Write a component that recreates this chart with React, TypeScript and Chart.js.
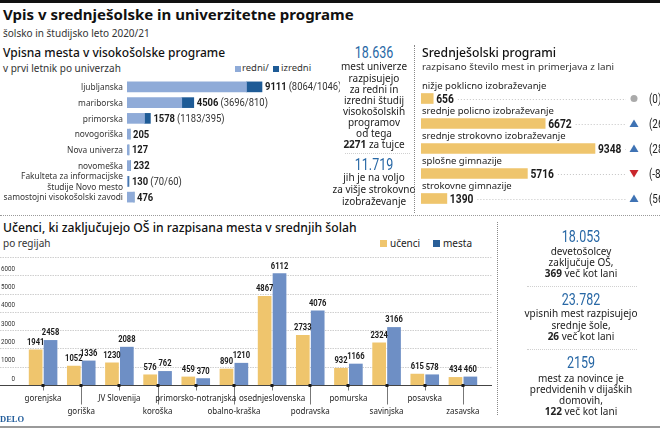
import React, { useEffect, useRef } from 'react';
import { Chart, registerables } from 'chart.js';
Chart.register(...registerables);

const BODY = '"Noto Sans", "Open Sans", sans-serif';
const NARROW = '"Roboto", "Liberation Sans", sans-serif';
const BLUE_TXT = '#2767a5';
const C_REDNI = '#8fabd8';
const C_IZREDNI = '#1e5b96';
const C_YELLOW = '#efc56d';
const C_MESTA = '#6e8fc5';
const C_MESTA_LEG = '#2a5f98';

// ---- Data ----
const uniLabels: (string | string[])[] = [
  'ljubljanska',
  'mariborska',
  'primorska',
  'novogoriška',
  'Nova univerza',
  'novomeška',
  ['Fakulteta za informacijske', 'študije Novo mesto'],
  'samostojni visokošolski zavodi',
];
const uniRedni = [8064, 3696, 1183, 205, 127, 232, 70, 476];
const uniIzredni = [1046, 810, 395, 0, 0, 0, 60, 0];
const uniTotal = [9111, 4506, 1578, 205, 127, 232, 130, 476];

const secLabels = [
  'nižje poklicno izobraževanje',
  'srednje policno izobraževanje',
  'srednje strokovno izobraževanje',
  'splošne gimnazije',
  'strokovne gimnazije',
];
const secValues = [656, 6672, 9348, 5716, 1390];
const secChange = [0, 26, 28, -84, 56];

const regions = [
  'gorenjska',
  'goriška',
  'JV Slovenija',
  'koroška',
  'primorsko-notranjska',
  'obalno-kraška',
  'osednjeslovenska',
  'podravska',
  'pomurska',
  'savinjska',
  'posavska',
  'zasavska',
];
const ucenci = [1941, 1052, 1230, 576, 459, 890, 4867, 2733, 932, 2324, 615, 434];
const mesta = [2458, 1336, 2088, 762, 370, 1210, 6112, 4076, 1166, 3166, 578, 460];
const regionTicks = [0, 1000, 2000, 3000, 4000, 5000, 6000, 7000];

// condensed canvas text: draws horizontally squeezed, returns drawn width
function nText(ctx: CanvasRenderingContext2D, text: string, x: number, y: number, font: string,
  align: CanvasTextAlign = 'left', sx = 0.82): number {
  ctx.save();
  ctx.font = font;
  ctx.textAlign = align;
  ctx.textBaseline = 'middle';
  const w = ctx.measureText(text).width * sx;
  ctx.translate(x, y);
  ctx.scale(sx, 1);
  ctx.fillText(text, 0, 0);
  ctx.restore();
  return w;
}

// ---- Text helper ----
type TP = {
  x: number; y: number; size: number; children: React.ReactNode; w?: number;
  align?: 'left' | 'center' | 'right'; weight?: number; color?: string; font?: string; lh?: number; sx?: number;
};
const T = ({ x, y, size, children, w, align = 'left', weight = 400, color = '#222', font = BODY, lh, sx }: TP) => {
  const L = lh ?? size * 1.2;
  const width = w ?? 200;
  const left = align === 'center' ? x - width / 2 : align === 'right' ? x - width : x;
  return (
    <div
      style={{
        position: 'absolute', left, top: y - L / 2, width: align === 'left' && !w ? undefined : width,
        fontSize: size, lineHeight: L + 'px', fontWeight: weight, color, fontFamily: font,
        textAlign: align, whiteSpace: 'nowrap',
        transform: sx ? `scaleX(${sx})` : undefined,
        transformOrigin: align === 'center' ? 'center' : align === 'right' ? 'right' : 'left',
      }}
    >
      {children}
    </div>
  );
};

function UniChart() {
  const ref = useRef<HTMLCanvasElement>(null);
  useEffect(() => {
    const labelPlugin = {
      id: 'uniLabels',
      afterDatasetsDraw(chart: any) {
        const { ctx, chartArea } = chart;
        const xs = chart.scales.x, ys = chart.scales.y;
        uniLabels.forEach((lab, i) => {
          const y = ys.getPixelForValue(i) + 0.5;
          ctx.fillStyle = '#333';
          const lines = Array.isArray(lab) ? lab : [lab];
          lines.forEach((ln, k) => {
            const dy = (k - (lines.length - 1) / 2) * 10.2;
            nText(ctx, ln, chartArea.left - 4, y + dy, `9.5px ${BODY}`, 'right', 0.88);
          });
        });
        uniTotal.forEach((t, i) => {
          const x = xs.getPixelForValue(uniRedni[i] + uniIzredni[i]) + 3;
          const y = ys.getPixelForValue(i) + 0.5;
          ctx.fillStyle = '#1a1a1a';
          const w = nText(ctx, String(t), x, y, `bold 11.5px ${NARROW}`);
          if (uniIzredni[i] > 0) {
            ctx.fillStyle = '#333';
            nText(ctx, `(${uniRedni[i]}/${uniIzredni[i]})`, x + w + 2, y, `11.5px ${NARROW}`);
          }
        });
      },
    };
    const chart = new Chart(ref.current as HTMLCanvasElement, {
      type: 'bar',
      data: {
        labels: uniLabels as any,
        datasets: [
          { label: 'redni', data: uniRedni, backgroundColor: C_REDNI, barThickness: 10, stack: 's' },
          { label: 'izredni', data: uniIzredni, backgroundColor: C_IZREDNI, barThickness: 10, stack: 's' },
        ],
      },
      options: {
        indexAxis: 'y',
        animation: false,
        responsive: false,
        layout: { padding: { top: 1, bottom: 1, left: 0, right: 0 } },
        plugins: { legend: { display: false }, tooltip: { enabled: false } },
        scales: {
          x: { display: false, stacked: true, min: 0, max: 14375 },
          y: {
            stacked: true,
            grid: { display: false, drawTicks: false },
            border: { display: false },
            ticks: { display: false },
            afterFit: (s: any) => { s.width = 127; s.paddingTop = 0; s.paddingBottom = 0; },
          },
        },
      } as any,
      plugins: [labelPlugin],
    });
    return () => chart.destroy();
  }, []);
  return <canvas ref={ref} width={340} height={128} style={{ position: 'absolute', left: 0, top: 78 }} />;
}

function SecChart() {
  const ref = useRef<HTMLCanvasElement>(null);
  useEffect(() => {
    const plug = {
      id: 'secLabels',
      afterDatasetsDraw(chart: any) {
        const { ctx } = chart;
        const xs = chart.scales.x, ys = chart.scales.y;
        const left = chart.chartArea.left;
        secValues.forEach((v, i) => {
          const y = ys.getPixelForValue(i);
          ctx.save();
          ctx.textBaseline = 'middle';
          ctx.textAlign = 'left';
          ctx.font = `9.5px ${BODY}`;
          ctx.fillStyle = '#222';
          ctx.fillText(secLabels[i], left + 1, y - 12);
          ctx.restore();
          const x = xs.getPixelForValue(v) + 3;
          ctx.fillStyle = '#1a1a1a';
          const w = nText(ctx, String(v), x, y + 1, `bold 12.5px ${NARROW}`);
          const ix = 213;
          ctx.save();
          ctx.strokeStyle = '#c4c4c4';
          ctx.lineWidth = 1;
          ctx.setLineDash([1, 2]);
          ctx.beginPath();
          ctx.moveTo(x + w + 4, Math.round(y) + 0.5);
          ctx.lineTo(ix - 8, Math.round(y) + 0.5);
          ctx.stroke();
          ctx.setLineDash([]);
          const c = secChange[i];
          ctx.beginPath();
          if (c > 0) {
            ctx.fillStyle = '#3f73b4';
            ctx.moveTo(ix, y - 4); ctx.lineTo(ix + 4.5, y + 3.5); ctx.lineTo(ix - 4.5, y + 3.5);
          } else if (c < 0) {
            ctx.fillStyle = '#c9262c';
            ctx.moveTo(ix - 4.5, y - 3.5); ctx.lineTo(ix + 4.5, y - 3.5); ctx.lineTo(ix, y + 4);
          } else {
            ctx.fillStyle = '#aaaaaa';
            ctx.arc(ix, y, 3.5, 0, Math.PI * 2);
          }
          ctx.closePath();
          ctx.fill();
          ctx.restore();
          ctx.fillStyle = '#222';
          nText(ctx, `(${c})`, ix + 15, y + 1, `12px ${NARROW}`);
        });
      },
    };
    const chart = new Chart(ref.current as HTMLCanvasElement, {
      type: 'bar',
      data: {
        labels: secLabels,
        datasets: [{ data: secValues, backgroundColor: C_YELLOW, barThickness: 10 }],
      },
      options: {
        indexAxis: 'y',
        animation: false,
        responsive: false,
        layout: { padding: { top: 10, bottom: 0, left: 0, right: 0 } },
        plugins: { legend: { display: false }, tooltip: { enabled: false } },
        scales: {
          x: { display: false, min: 0, max: 12842 },
          y: { display: false },
        },
      } as any,
      plugins: [plug],
    });
    return () => chart.destroy();
  }, []);
  return <canvas ref={ref} width={239} height={135} style={{ position: 'absolute', left: 421, top: 76 }} />;
}

function RegionChart() {
  const ref = useRef<HTMLCanvasElement>(null);
  useEffect(() => {
    const plug = {
      id: 'regionDeco',
      beforeDatasetsDraw(chart: any) {
        const { ctx } = chart;
        const ys = chart.scales.y;
        ctx.save();
        ctx.strokeStyle = '#cfcfcf';
        ctx.lineWidth = 1;
        ctx.setLineDash([1.5, 1]);
        ys.ticks.forEach((t: any) => {
          if (t.value === 0) return;
          const y = Math.round(ys.getPixelForValue(t.value)) + 0.5;
          ctx.beginPath();
          ctx.moveTo(0, y);
          ctx.lineTo(492, y);
          ctx.stroke();
        });
        ctx.restore();
        ctx.fillStyle = '#333';
        ys.ticks.forEach((t: any) => {
          if (t.value === 7000) return;
          nText(ctx, String(t.value), 15, ys.getPixelForValue(t.value) - 6.5, `8px ${NARROW}`, 'right', 0.78);
        });
      },
      afterDatasetsDraw(chart: any) {
        const { ctx, chartArea } = chart;
        const xs = chart.scales.x;
        ctx.save();
        const b = Math.round(chartArea.bottom) + 0.5;
        ctx.strokeStyle = '#444';
        ctx.lineWidth = 1.2;
        ctx.beginPath();
        ctx.moveTo(0, b);
        ctx.lineTo(492, b);
        ctx.stroke();
        regions.forEach((_, i) => {
          const x = Math.round(xs.getPixelForValue(i)) + 0.5;
          ctx.strokeStyle = '#777';
          ctx.lineWidth = 1;
          ctx.beginPath();
          ctx.moveTo(x, b);
          ctx.lineTo(x, b + (i % 2 ? 19 : 5));
          ctx.stroke();
          ctx.fillStyle = '#1a1a1a';
          ctx.fillRect(x - 2, b - 1.5, 3, 3);
        });
        ctx.restore();
        ctx.fillStyle = '#222';
        regions.forEach((r, i) => {
          const x = xs.getPixelForValue(i);
          nText(ctx, r, x, b + (i % 2 ? 25.5 : 13), `9.5px ${BODY}`, 'center', 0.84);
        });
        ctx.fillStyle = '#1a1a1a';
        chart.data.datasets.forEach((ds: any, di: number) => {
          const meta = chart.getDatasetMeta(di);
          meta.data.forEach((el: any, i: number) => {
            nText(ctx, String(ds.data[i]), el.x, el.y - 7, `bold 9.5px ${NARROW}`, 'center', 0.8);
          });
        });
      },
    };
    const chart = new Chart(ref.current as HTMLCanvasElement, {
      type: 'bar',
      data: {
        labels: regions,
        datasets: [
          { label: 'učenci', data: ucenci, backgroundColor: C_YELLOW, categoryPercentage: 0.78, barPercentage: 0.92 },
          { label: 'mesta', data: mesta, backgroundColor: C_MESTA, categoryPercentage: 0.78, barPercentage: 0.92 },
        ],
      },
      options: {
        animation: false,
        responsive: false,
        layout: { padding: { top: 7, bottom: 0, left: 0, right: 15 } },
        plugins: { legend: { display: false }, tooltip: { enabled: false } },
        scales: {
          x: {
            grid: { display: false, drawTicks: false },
            border: { display: false },
            ticks: { display: false },
            afterFit: (s: any) => { s.height = 41; s.paddingLeft = 0; s.paddingRight = 0; },
          },
          y: {
            min: 0,
            max: 7000,
            afterBuildTicks: (s: any) => { s.ticks = regionTicks.map((v) => ({ value: v })); },
            grid: { display: false, drawTicks: false },
            border: { display: false },
            ticks: { display: false },
            afterFit: (s: any) => { s.width = 24; s.paddingTop = 0; s.paddingBottom = 0; },
          },
        },
      } as any,
      plugins: [plug],
    });
    return () => chart.destroy();
  }, []);
  return <canvas ref={ref} width={497} height={176} style={{ position: 'absolute', left: 0, top: 250 }} />;
}

const Sq = ({ x, y, c, s = 6 }: { x: number; y: number; c: string; s?: number }) => (
  <div style={{ position: 'absolute', left: x, top: y - s / 2, width: s, height: s, background: c }} />
);
const HDot = ({ x, y, w, c = '#9a9a9a' }: { x: number; y: number; w: number; c?: string }) => (
  <div style={{ position: 'absolute', left: x, top: y, width: w, height: 0, borderTop: `1px dotted ${c}` }} />
);
const VDot = ({ x, y, h }: { x: number; y: number; h: number }) => (
  <div style={{ position: 'absolute', left: x, top: y, width: 0, height: h, borderLeft: '1px dotted #888' }} />
);

const BigNum = ({ x, y, children }: { x: number; y: number; children: React.ReactNode }) => (
  <T x={x} y={y} size={16} align="center" w={150} color={BLUE_TXT} font={NARROW} sx={0.78}>{children}</T>
);

export default function App() {
  return (
    <div
      style={{
        position: 'fixed', left: 0, top: 0, width: 660, height: 428, overflow: 'hidden',
        background: '#fff', fontFamily: BODY,
      }}
    >
      <div style={{ position: 'absolute', left: 0, top: 0, width: 660, height: 3, background: '#111' }} />
      <T x={3} y={14} size={15} weight={700} color="#111">Vpis v srednješolske in univerzitetne programe</T>
      <T x={3} y={33} size={10} color="#333">šolsko in študijsko leto 2020/21</T>
      <T x={3} y={53} size={12} weight={500} color="#111">Vpisna mesta v visokošolske programe</T>
      <T x={3} y={68} size={10} color="#333">v prvi letnik po univerzah</T>
      <Sq x={235} y={68.5} c={C_REDNI} s={6} />
      <T x={242} y={68} size={9.5} color="#333">redni/</T>
      <Sq x={273} y={68.5} c={C_IZREDNI} s={6} />
      <T x={281} y={68} size={9.5} color="#333">izredni</T>
      <UniChart />

      {/* middle column */}
      <BigNum x={374} y={53}>18.636</BigNum>
      <T x={374} y={67} size={10} align="center" w={90} lh={11.1} color="#222">
        mest univerze<br />razpisujejo<br />za redni in<br />izredni študij<br />visokošolskih<br />programov<br />od tega<br />
        <b>2271</b> za tujce
      </T>
      <HDot x={345} y={153} w={65} c="#d0d0d0" />
      <BigNum x={374} y={165}>11.719</BigNum>
      <T x={374} y={177} size={10} align="center" w={90} lh={12} color="#222">
        jih je na voljo<br />za višje strokovno<br />izobraževanje
      </T>
      <VDot x={414} y={45} h={168} />

      {/* right top */}
      <T x={422} y={53} size={12.2} weight={500} color="#111">Srednješolski programi</T>
      <T x={422} y={67} size={9.8} color="#333">razpisano število mest in primerjava z lani</T>
      <SecChart />

      <HDot x={0} y={215} w={660} />

      {/* bottom */}
      <T x={3} y={228} size={12.2} weight={500} color="#111">Učenci, ki zaključujejo OŠ in razpisana mesta v srednjih šolah</T>
      <T x={3} y={243} size={10} color="#333">po regijah</T>
      <Sq x={380} y={243.5} c={C_YELLOW} s={7} />
      <T x={390} y={243} size={10} color="#222">učenci</T>
      <Sq x={433} y={243.5} c={C_MESTA_LEG} s={7} />
      <T x={443} y={243} size={10} color="#222">mesta</T>
      <RegionChart />
      <VDot x={497} y={222} h={193} />

      {/* right bottom */}
      <BigNum x={581} y={237}>18.053</BigNum>
      <T x={581} y={251} size={10} align="center" w={150} lh={11} color="#222">
        devetošolcev<br />zaključuje OŠ,<br /><b>369</b> več kot lani
      </T>
      <HDot x={527} y={286} w={110} c="#d0d0d0" />
      <BigNum x={581} y={300}>23.782</BigNum>
      <T x={581} y={314} size={10} align="center" w={150} lh={11.5} color="#222">
        vpisnih mest razpisujejo<br />srednje šole,<br /><b>26</b> več kot lani
      </T>
      <HDot x={527} y={349} w={110} c="#d0d0d0" />
      <BigNum x={581} y={363}>2159</BigNum>
      <T x={581} y={378} size={10} align="center" w={150} lh={11} color="#222">
        mest za novince je<br />predvidenih v dijaških<br />domovih,<br /><b>122</b> več kot lani
      </T>

      <T x={0} y={419} size={8.5} weight={700} color="#1f5a99" font={'"Liberation Serif", "DejaVu Serif", serif'}>DELO</T>
      <div style={{ position: 'absolute', left: 0, top: 426, width: 660, height: 1.5, background: '#9a9a9a' }} />
    </div>
  );
}
